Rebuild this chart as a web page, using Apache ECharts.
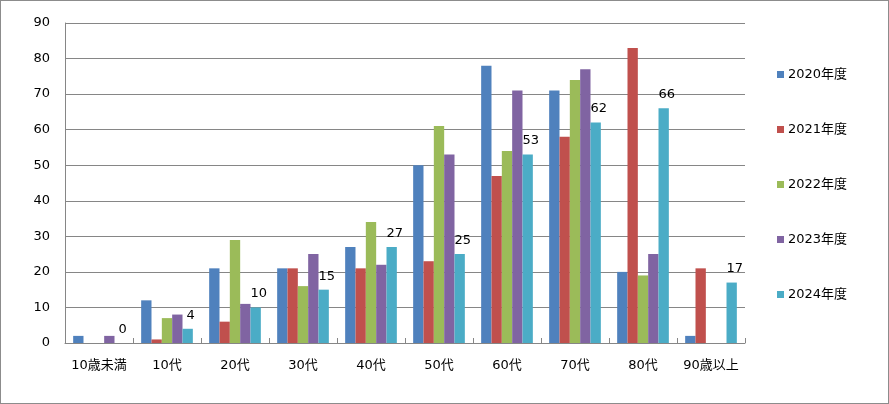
<!DOCTYPE html>
<html><head><meta charset="utf-8">
<script src="https://cdn.jsdelivr.net/npm/echarts@6/dist/echarts.min.js"></script>
<style>
html,body{margin:0;padding:0;background:#fff;}
#wrap{width:889px;height:404px;box-sizing:border-box;border:1px solid #8c8c8c;position:relative;}
#c{position:absolute;left:0;top:0;width:887px;height:402px;}
</style></head>
<body><div id="wrap"><div id="c"></div></div>
<script>
const categories = ['10歳未満','10代','20代','30代','40代','50代','60代','70代','80代','90歳以上'];
const seriesNames = ['2020年度','2021年度','2022年度','2023年度','2024年度'];
const v2020 = [2, 12, 21, 21, 27, 50, 78, 71, 20, 2];
const v2021 = [0, 1, 6, 21, 21, 23, 47, 58, 83, 21];
const v2022 = [0, 7, 29, 16, 34, 61, 54, 74, 19, 0];
const v2023 = [2, 8, 11, 25, 22, 53, 71, 77, 25, 0];
const v2024 = [0, 4, 10, 15, 27, 25, 53, 62, 66, 17];
const yTicks = {min: 0, max: 90, interval: 10};
const colors = ['#4F81BD','#C0504D','#9BBB59','#8064A2','#4BACC6'];
const allValues = [v2020, v2021, v2022, v2023, v2024];

const FONT = '"DejaVu Sans", "Noto Sans CJK JP", sans-serif';
const chart = echarts.init(document.getElementById('c'));
chart.setOption({
  animation: false,
  textStyle: {fontFamily: FONT},
  grid: {left: 64, right: 143, top: 22, bottom: 60},
  legend: {
    orient: 'vertical', left: 771, top: 62, itemGap: 42,
    itemWidth: 7, itemHeight: 7, icon: 'rect',
    textStyle: {fontFamily: FONT, fontSize: 13, color: '#000', padding: [0,0,0,-1]},
    data: seriesNames
  },
  xAxis: {
    type: 'category', data: categories,
    axisLine: {lineStyle: {color: '#868686', width: 1}},
    axisTick: {show: true, inside: true, length: 5, lineStyle: {color: '#868686'}},
    axisLabel: {color: '#000', fontSize: 13, fontFamily: FONT, margin: 16, interval: 0}
  },
  yAxis: {
    type: 'value', min: yTicks.min, max: yTicks.max, interval: yTicks.interval,
    axisLine: {show: true, lineStyle: {color: '#868686'}},
    axisTick: {show: false},
    splitLine: {lineStyle: {color: '#868686', width: 1}},
    axisLabel: {color: '#000', fontSize: 13, fontFamily: FONT, margin: 15}
  },
  series: seriesNames.map((n, i) => ({
    name: n, type: 'bar', data: allValues[i],
    barGap: '0%', barCategoryGap: '24%',
    itemStyle: {color: colors[i]},
    label: i === 4 ? {show: true, position: 'top', distance: 7, offset: [3, 0],
      color: '#000', fontSize: 13, fontFamily: FONT} : {show: false}
  }))
});
</script></body></html>
